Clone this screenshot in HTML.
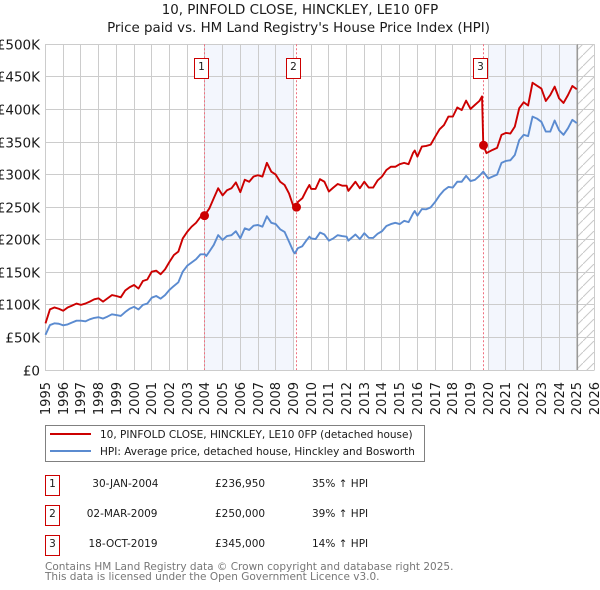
<!DOCTYPE html>
<html>
<head>
<meta charset="utf-8">
<title>10, Pinfold Close price chart</title>
<style>
html,body{margin:0;padding:0;background:#fff;width:600px;height:590px;overflow:hidden}
svg{display:block}
text{font-family:"DejaVu Sans","Liberation Sans",sans-serif;fill:#1a1a1a}
</style>
</head>
<body>
<svg id="root" width="600" height="590" viewBox="0 0 600 590" xmlns="http://www.w3.org/2000/svg">
<defs>
<pattern id="hatch" width="11" height="11" patternUnits="userSpaceOnUse">
<path d="M-1 12 L12 -1" stroke="#c8c8c8" stroke-width="1" fill="none"/>
</pattern>
</defs>
<text x="300" y="14" text-anchor="middle" font-size="13.4">10, PINFOLD CLOSE, HINCKLEY, LE10 0FP</text>
<text x="298.5" y="32" text-anchor="middle" font-size="13.4">Price paid vs. HM Land Registry's House Price Index (HPI)</text>
<g id="plot"></g>
<g>
<rect x="45.5" y="425.5" width="379" height="36" fill="#fff" stroke="#808080" stroke-width="1"/>
<line x1="50" x2="91" y1="434" y2="434" stroke="#cc0000" stroke-width="2"/>
<text x="100" y="438" font-size="10.5">10, PINFOLD CLOSE, HINCKLEY, LE10 0FP (detached house)</text>
<line x1="50" x2="91" y1="451" y2="451" stroke="#5b8bd0" stroke-width="2"/>
<text x="100" y="455" font-size="10.5">HPI: Average price, detached house, Hinckley and Bosworth</text>
</g>
<g>
<rect x="45.5" y="475.5" width="14" height="20" fill="#fff" stroke="#cc0000" stroke-width="1"/>
<text x="52.5" y="487" text-anchor="middle" font-size="10.5">1</text>
<text x="158.5" y="487" text-anchor="end" font-size="10.5">30-JAN-2004</text>
<text x="215" y="487" font-size="10.5">£236,950</text>
<text x="312" y="487" font-size="10.5">35% ↑ HPI</text>
<rect x="45.5" y="505.5" width="14" height="20" fill="#fff" stroke="#cc0000" stroke-width="1"/>
<text x="52.5" y="517" text-anchor="middle" font-size="10.5">2</text>
<text x="157.5" y="517" text-anchor="end" font-size="10.5">02-MAR-2009</text>
<text x="215" y="517" font-size="10.5">£250,000</text>
<text x="312" y="517" font-size="10.5">39% ↑ HPI</text>
<rect x="45.5" y="535.5" width="14" height="20" fill="#fff" stroke="#cc0000" stroke-width="1"/>
<text x="52.5" y="547" text-anchor="middle" font-size="10.5">3</text>
<text x="157.5" y="547" text-anchor="end" font-size="10.5">18-OCT-2019</text>
<text x="215" y="547" font-size="10.5">£345,000</text>
<text x="312" y="547" font-size="10.5">14% ↑ HPI</text>
</g>
<text x="45" y="570" font-size="10.5" style="fill:#777">Contains HM Land Registry data © Crown copyright and database right 2025.</text>
<text x="45" y="580" font-size="10.5" style="fill:#777">This data is licensed under the Open Government Licence v3.0.</text>
</svg>
<script>
const yearTicks = [1995,1996,1997,1998,1999,2000,2001,2002,2003,2004,2005,2006,2007,2008,2009,2010,2011,2012,2013,2014,2015,2016,2017,2018,2019,2020,2021,2022,2023,2024,2025,2026];
const valueTicks = [0,50,100,150,200,250,300,350,400,450,500];
const valueTickLabels = ['£0','£50K','£100K','£150K','£200K','£250K','£300K','£350K','£400K','£450K','£500K'];
const shadedStarts = [2004,2020];
const shadedEnds = [2009,2025];
const forecastStart = 2025.05;
const saleLabels = ['1','2','3'];
const saleDates = [2003.98,2009.17,2019.72];
const salePrices = [236.95,250,345];

const hpiDates = [
1995,1995.25,1995.5,1995.75,1996,1996.25,1996.5,1996.75,1997,1997.25,1997.5,1997.75,
1998,1998.25,1998.5,1998.75,1999,1999.25,1999.5,1999.75,2000,2000.25,2000.5,2000.75,
2001,2001.25,2001.5,2001.75,2002,2002.25,2002.5,2002.75,2003,2003.25,2003.5,2003.75,
2004,2004.08,2004.25,2004.5,2004.75,2005,2005.25,2005.5,2005.75,2006,2006.25,2006.5,2006.75,
2007,2007.25,2007.5,2007.75,2008,2008.25,2008.5,2008.75,2009,2009.08,2009.25,2009.5,2009.75,2009.9,
2010,2010.25,2010.5,2010.75,2011,2011.25,2011.5,2011.75,2012,2012.1,2012.5,2012.75,
2013,2013.25,2013.5,2013.75,2014,2014.25,2014.5,2014.75,2015,2015.25,2015.5,2015.75,2015.85,
2016,2016.25,2016.5,2016.75,2017,2017.25,2017.5,2017.75,2018,2018.25,2018.5,2018.75,
2019,2019.25,2019.5,2019.72,2020,2020.25,2020.5,2020.75,2021,2021.25,2021.5,2021.75,
2022,2022.25,2022.5,2022.75,2023,2023.25,2023.5,2023.75,2024,2024.25,2024.5,2024.75,2025];
const hpiValues = [
54,69,71.6,71,68.6,70,73,75.7,75.7,74.7,77.8,80,
81,79,82,85.5,84.4,83,89,94,97,93,100,102,
111,113.6,109.5,115,123,129,134.6,151,160,165,170,177.6,
177.6,175,181.7,192,207,199.6,205.7,207,213,202,217.5,215,221.6,
222.6,220,236,226,224,216,212,197,181.7,179,187,190,199.6,204.7,
202,201,211,208,198.6,202,207,205.7,204.7,198.6,208,201,
210,203,202.7,209,213,221,224,226,224,229,227,240,244,
237,247,246.7,249.7,258,268,276,281,280,289,289,298,
290,292,298,304.5,294,297,300,318,321,322,330,353,
361,359,389,386,381,366,366,383,368,361,371,384,379];

const priceDates = [
1995,1995.25,1995.5,1995.75,1996,1996.25,1996.5,1996.75,1997,1997.25,1997.5,1997.75,
1998,1998.25,1998.5,1998.75,1999,1999.25,1999.5,1999.75,2000,2000.25,2000.5,2000.75,
2001,2001.25,2001.5,2001.75,2002,2002.25,2002.5,2002.75,2003,2003.25,2003.5,2003.75,
2003.98,2004.25,2004.5,2004.75,2005,2005.25,2005.5,2005.75,2006,2006.25,2006.5,2006.75,
2007,2007.25,2007.5,2007.75,2008,2008.25,2008.5,2008.75,2009,2009.17,2009.25,2009.5,2009.75,2009.9,
2010,2010.25,2010.5,2010.75,2011,2011.25,2011.5,2011.75,2012,2012.1,2012.5,2012.75,
2013,2013.25,2013.5,2013.75,2014,2014.25,2014.5,2014.75,2015,2015.25,2015.5,2015.75,2015.85,
2016,2016.25,2016.5,2016.75,2017,2017.25,2017.5,2017.75,2018,2018.25,2018.5,2018.75,
2019,2019.25,2019.5,2019.65,2019.72,2019.9,2020.25,2020.5,2020.75,2021,2021.25,2021.5,2021.75,
2022,2022.25,2022.5,2022.75,2023,2023.25,2023.5,2023.75,2024,2024.25,2024.5,2024.75,2025];
const priceValues = [
71.6,93,96,94,91,96,98.8,102,100,102,105,108.5,
110,105,110,115,113.6,111.6,122,127,130.5,125,136.6,139,
151,152.5,147,154.5,166,176.6,181.7,202,212,220,226,235,
236.95,248,263.6,279,268,276,279,288,273,292,289,297,
299,297,318,304.5,300,289,284,271,251,250,258,263.6,277,284,
278,278,293,289,274,280,285.6,283,283,275,289,279,
289,280,280,291,297,307,312,312,316,318,316,333,337,
327.5,343,344,346,358,369.5,376,389,389,403,399,413.5,
400.7,407,413,420,345,333,338,341,361,364,363,373.6,402,
411,406,441,436.5,432,413,422,435,417,410,422,436,431];

const plot = document.getElementById('plot');
const NS = 'http://www.w3.org/2000/svg';
function xScale(year){ return 45.5 + (year - 1995) * 17.71; }
function yScale(v){ return 370 - v * 0.6514; }
function snap(v){ return Math.floor(v) + 0.5; }
function make(tag, attrs, parent){
  const el = document.createElementNS(NS, tag);
  for (const k in attrs) el.setAttribute(k, attrs[k]);
  (parent || plot).appendChild(el);
  return el;
}
function pathFrom(xs, ys){
  return xs.map((d, i) => (i ? 'L' : 'M') + xScale(d).toFixed(2) + ' ' + yScale(ys[i]).toFixed(2)).join(' ');
}

shadedStarts.forEach((s, i) => {
  const band = make('rect', {x: xScale(s), y: yScale(500), width: xScale(shadedEnds[i]) - xScale(s), height: yScale(0) - yScale(500), fill: '#f3f6fd'});
  
  
});

const hatch = make('rect', {x: xScale(forecastStart), y: yScale(500), width: xScale(2026) - xScale(forecastStart), height: yScale(0) - yScale(500), fill: 'url(#hatch)'});



yearTicks.forEach(y => {
  const gx = snap(xScale(y));
  const grid = make('line', {x1: gx, x2: gx, y1: yScale(500), y2: yScale(0), stroke: '#cccccc', 'stroke-width': 1});
  
  
  const label = make('text', {transform: 'translate(' + (gx + 4.5) + ' 382) rotate(-90)', 'text-anchor': 'end', 'font-size': 13});
  
  
  label.textContent = y;
});

valueTicks.forEach((v, i) => {
  const gy = snap(yScale(v));
  const grid = make('line', {x1: 45, x2: xScale(2026), y1: gy, y2: gy, stroke: '#cccccc', 'stroke-width': 1});
  
  
  const label = make('text', {x: 40, y: gy + 5, 'text-anchor': 'end', 'font-size': 13.5});
  
  
  label.textContent = valueTickLabels[i];
});

const forecastLine = make('line', {x1: snap(xScale(forecastStart)), x2: snap(xScale(forecastStart)), y1: yScale(500), y2: yScale(0), stroke: '#999999', 'stroke-width': 1.2});



saleDates.forEach((d) => {
  const sx = snap(xScale(d));
  const drop = make('line', {x1: sx, x2: sx, y1: yScale(500), y2: yScale(0), stroke: '#f07080', 'stroke-width': 1, 'stroke-dasharray': '2 2'});
  
  
});

const hpiLine = make('path', {d: pathFrom(hpiDates, hpiValues), fill: 'none', stroke: '#5b8bd0', 'stroke-width': 1.9, 'stroke-linejoin': 'round'});



const priceLine = make('path', {d: pathFrom(priceDates, priceValues), fill: 'none', stroke: '#cc0000', 'stroke-width': 1.9, 'stroke-linejoin': 'round'});



saleDates.forEach((d, i) => {
  const sx = snap(xScale(d));
  const dot = make('circle', {cx: sx, cy: yScale(salePrices[i]), r: 4.5, fill: '#cc0000'});
  
  
  const box = make('rect', {x: sx - 10, y: 58.5, width: 14, height: 20, fill: '#fff', stroke: '#cc0000', 'stroke-width': 1});
  
  
  const num = make('text', {x: sx - 3, y: 70, 'text-anchor': 'middle', 'font-size': 10.5});
  
  
  num.textContent = saleLabels[i];
});
</script>
</body>
</html>
